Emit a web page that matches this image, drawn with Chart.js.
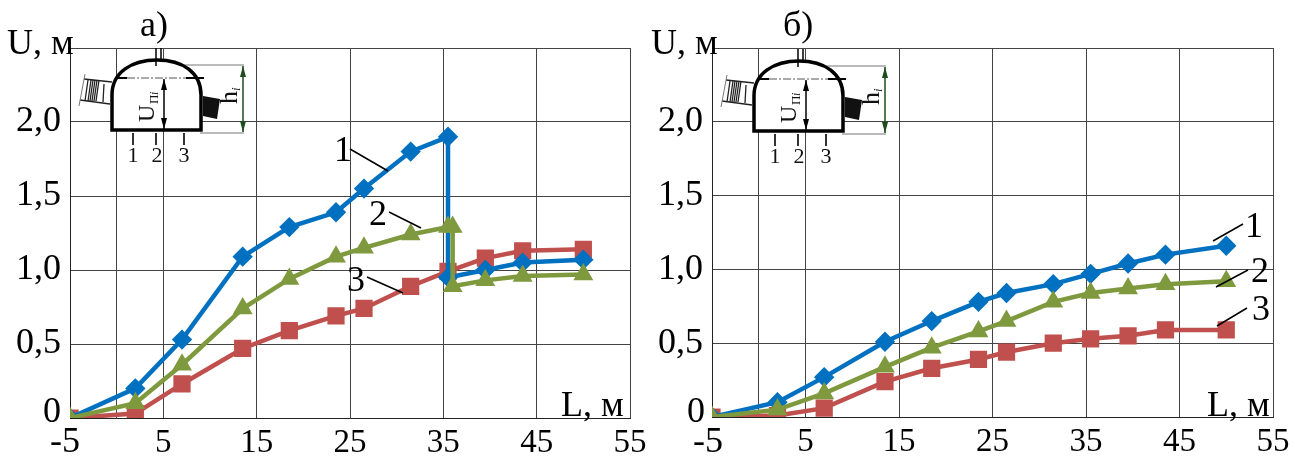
<!DOCTYPE html>
<html lang="en">
<head>
<meta charset="UTF-8">
<title>U(L)</title>
<script src="https://cdn.jsdelivr.net/npm/chart.js@4/dist/chart.umd.js"></script>
<style>
    html, body { margin: 0; padding: 0; background: #fff; overflow: hidden; }
    .panel { position: absolute; top: 0; height: 456px; }
    #leftPanel { left: 0; width: 648px; }
    #rightPanel { left: 648px; width: 647px; }
</style>
</head>
<body>
<div class="panel" id="leftPanel"><canvas id="chartA" width="648" height="456"></canvas></div>
<div class="panel" id="rightPanel"><canvas id="chartB" width="647" height="456"></canvas></div>
<script>
// distances along the working, m
const xGrid = [-5, 0, 5, 15, 25, 35, 45, 55];
const xTickLabels = ['', '', '5', '15', '25', '35', '45', '55'];
const yGrid = [0, 0.5, 1, 1.5, 2, 2.5];
const yTickLabels = ['', '0,5', '1,0', '1,5', '2,0', ''];

// panel a)
const aX1 = [-5, 2, 7, 13.5, 18.5, 23.5, 26.5, 31.5, 35.5, 35.5, 39.5, 43.5, 50];
const aU1 = [0, 0.2, 0.53, 1.09, 1.29, 1.39, 1.55, 1.8, 1.9, 0.95, 1.0, 1.05, 1.07];
const aX2 = [-5, 2, 7, 13.5, 18.5, 23.5, 26.5, 31.5, 35.5, 36, 36, 39.5, 43.5, 50];
const aU2 = [0, 0.1, 0.36, 0.74, 0.94, 1.09, 1.15, 1.24, 1.29, 1.29, 0.89, 0.93, 0.96, 0.97];
const aX3 = [-5, 2, 7, 13.5, 18.5, 23.5, 26.5, 31.5, 35.5, 39.5, 43.5, 50];
const aU3 = [0, 0.03, 0.23, 0.47, 0.59, 0.69, 0.74, 0.89, 0.99, 1.08, 1.13, 1.14];

// panel б)
const bX = [-5, 2, 7, 13.5, 18.5, 23.5, 26.5, 31.5, 35.5, 39.5, 43.5, 50];
const bU1 = [0, 0.1, 0.27, 0.51, 0.65, 0.78, 0.84, 0.9, 0.97, 1.04, 1.1, 1.16];
const bU2 = [0, 0.05, 0.16, 0.34, 0.47, 0.58, 0.65, 0.78, 0.84, 0.87, 0.9, 0.92];
const bU3 = [0, 0.01, 0.06, 0.24, 0.33, 0.39, 0.44, 0.5, 0.53, 0.55, 0.59, 0.59];

const BLUE = '#0070c0', GREEN = '#7f9a3e', RED = '#c0504d';
const SERIF = '"Liberation Serif", serif';

function points(xs, ys) {
    return xs.map((x, i) => ({ x: x, y: ys[i] }));
}

function series(label, xs, ys, color, style, size, order) {
    return {
        label: label,
        data: points(xs, ys),
        borderColor: color,
        backgroundColor: color,
        borderWidth: 4.5,
        pointStyle: style,
        pointRadius: size,
        pointBorderColor: color,
        tension: 0,
        order: order
    };
}

function arrowHead(ctx, x, y, dir) {
    ctx.beginPath();
    ctx.moveTo(x, y);
    ctx.lineTo(x - 3, y + 11 * dir);
    ctx.lineTo(x + 3, y + 11 * dir);
    ctx.fill();
}

// tunnel cross-section sketch, ox/oy shift it for each panel
function drawSketch(ctx, ox, oy) {
    ctx.save();
    ctx.translate(ox, oy);

    // dimension lines
    ctx.lineWidth = 1;
    ctx.strokeStyle = '#777';
    ctx.beginPath();
    ctx.moveTo(157, 65); ctx.lineTo(244, 65);
    ctx.moveTo(200, 133); ctx.lineTo(244, 133);
    ctx.stroke();

    // shell
    ctx.fillStyle = '#fff';
    ctx.lineWidth = 3.5;
    ctx.strokeStyle = '#000';
    ctx.beginPath();
    ctx.moveTo(112, 130);
    ctx.lineTo(112, 95);
    ctx.bezierCurveTo(112, 72, 132, 60, 157, 60);
    ctx.bezierCurveTo(182, 60, 201, 72, 201, 95);
    ctx.lineTo(201, 130);
    ctx.closePath();
    ctx.fill();
    ctx.stroke();

    // roof bolt stub
    ctx.lineWidth = 1.5;
    ctx.beginPath();
    ctx.moveTo(156, 48); ctx.lineTo(156, 66);
    ctx.moveTo(161, 48); ctx.lineTo(161, 60);
    ctx.stroke();

    // spring line
    ctx.lineWidth = 2;
    ctx.beginPath();
    ctx.moveTo(116, 78); ctx.lineTo(127, 78);
    ctx.moveTo(186, 78); ctx.lineTo(204, 78);
    ctx.stroke();
    ctx.lineWidth = 1;
    ctx.setLineDash([8, 2, 2, 2]);
    ctx.strokeStyle = '#555';
    ctx.beginPath();
    ctx.moveTo(127, 78); ctx.lineTo(186, 78);
    ctx.stroke();
    ctx.setLineDash([]);
    ctx.strokeStyle = '#000';

    // arrows
    ctx.lineWidth = 1.5;
    ctx.fillStyle = '#000';
    ctx.beginPath();
    ctx.moveTo(164, 79); ctx.lineTo(164, 129);
    ctx.stroke();
    arrowHead(ctx, 164, 79, 1);
    arrowHead(ctx, 164, 129, -1);
    ctx.strokeStyle = '#1d4d1d';
    ctx.fillStyle = '#1d4d1d';
    ctx.beginPath();
    ctx.moveTo(243, 66); ctx.lineTo(243, 132);
    ctx.stroke();
    arrowHead(ctx, 243, 66, 1);
    arrowHead(ctx, 243, 132, -1);

    // block on the right wall
    ctx.fillStyle = '#111';
    ctx.beginPath();
    ctx.moveTo(203, 96); ctx.lineTo(220, 99); ctx.lineTo(217, 119); ctx.lineTo(203, 116);
    ctx.fill();

    // ladder on the left wall
    ctx.strokeStyle = '#222';
    ctx.lineWidth = 1.5;
    ctx.beginPath();
    ctx.moveTo(84, 79); ctx.lineTo(112, 82);
    ctx.moveTo(80, 100); ctx.lineTo(110, 104);
    ctx.stroke();
    ctx.lineWidth = 1;
    ctx.strokeStyle = '#777';
    ctx.beginPath();
    ctx.moveTo(85, 74); ctx.lineTo(79, 106);
    ctx.stroke();
    ctx.strokeStyle = '#222';
    ctx.lineWidth = 1.3;
    ctx.beginPath();
    [88, 91, 93, 95, 97, 99].forEach(x => {
        ctx.moveTo(x, 80); ctx.lineTo(x - 3, 101);
    });
    ctx.moveTo(104, 84); ctx.lineTo(103, 102);
    ctx.stroke();

    // gauge marks
    ctx.strokeStyle = '#000';
    ctx.lineWidth = 1.6;
    ctx.beginPath();
    [133, 156, 184].forEach(x => {
        ctx.moveTo(x, 133); ctx.lineTo(x, 145);
    });
    ctx.stroke();

    ctx.fillStyle = '#111';
    ctx.font = '22px ' + SERIF;
    ctx.textAlign = 'center';
    ctx.textBaseline = 'alphabetic';
    ctx.fillText('1', 133, 162);
    ctx.fillText('2', 157, 162);
    ctx.fillText('3', 184, 162);

    ctx.save();
    ctx.translate(154, 122);
    ctx.rotate(-Math.PI / 2);
    ctx.textAlign = 'left';
    ctx.font = '24px ' + SERIF;
    ctx.fillText('U', 0, 0);
    ctx.font = '13px ' + SERIF;
    ctx.fillText('П', 18, 4);
    ctx.font = 'italic 12px ' + SERIF;
    ctx.fillText('i', 27, 4);
    ctx.restore();

    ctx.save();
    ctx.translate(237, 104);
    ctx.rotate(-Math.PI / 2);
    ctx.textAlign = 'left';
    ctx.font = '26px ' + SERIF;
    ctx.fillText('h', 0, 0);
    ctx.font = 'italic 13px ' + SERIF;
    ctx.fillText('i', 13, 3);
    ctx.restore();

    ctx.restore();
}

function annotations(conf) {
    return {
        id: 'annotations',
        afterDatasetsDraw(chart) {
            const ctx = chart.ctx;
            drawSketch(ctx, conf.sketch[0], conf.sketch[1]);
            ctx.save();
            ctx.fillStyle = '#000';
            ctx.textBaseline = 'alphabetic';
            ctx.textAlign = 'left';
            ctx.font = '36px ' + SERIF;
            conf.texts.forEach(t => ctx.fillText(t[0], t[1], t[2]));
            ctx.strokeStyle = '#000';
            ctx.lineWidth = 1.5;
            ctx.beginPath();
            conf.leaders.forEach(l => {
                ctx.moveTo(l[0], l[1]);
                ctx.lineTo(l[2], l[3]);
            });
            ctx.stroke();
            ctx.restore();
        }
    };
}

function buildChart(id, datasets, box, conf) {
    new Chart(document.getElementById(id), {
        type: 'line',
        data: { datasets: datasets },
        options: {
            responsive: false,
            animation: false,
            layout: { padding: { top: box.top, right: box.right, left: 0, bottom: 0 } },
            plugins: { legend: { display: false }, tooltip: { enabled: false } },
            scales: {
                x: {
                    type: 'linear',
                    min: -5,
                    max: 55,
                    afterBuildTicks: s => { s.ticks = xGrid.map(v => ({ value: v })); },
                    afterFit: s => {
                        s.height = box.bottom;
                        s.paddingLeft = 0;
                        s.paddingRight = 0;
                    },
                    grid: { color: '#444', lineWidth: 1, drawTicks: false },
                    border: { color: '#222', width: 1 },
                    ticks: {
                        autoSkip: false,
                        maxRotation: 0,
                        padding: 6,
                        color: '#000',
                        font: { family: SERIF, size: 33 },
                        callback: v => xTickLabels[xGrid.indexOf(v)]
                    }
                },
                y: {
                    min: 0,
                    max: 2.5,
                    afterBuildTicks: s => { s.ticks = yGrid.map(v => ({ value: v })); },
                    afterFit: s => {
                        s.width = box.left;
                        s.paddingTop = 0;
                        s.paddingBottom = 0;
                    },
                    grid: { color: '#444', lineWidth: 1, drawTicks: false },
                    border: { color: '#222', width: 1 },
                    ticks: {
                        autoSkip: false,
                        padding: 9,
                        color: '#000',
                        font: { family: SERIF, size: 36 },
                        callback: v => yTickLabels[yGrid.indexOf(v)]
                    }
                }
            }
        },
        plugins: [annotations(conf)]
    });
}

buildChart('chartA', [
    series('3', aX3, aU3, RED, 'rect', 9, 3),
    series('1', aX1, aU1, BLUE, 'rectRot', 7, 2),
    series('2', aX2, aU2, GREEN, 'triangle', 7, 1)
], { left: 70, top: 48, right: 18, bottom: 38 }, {
    sketch: [0, 0],
    texts: [
        ['U, м', 7, 54], ['а)', 140, 36], ['0', 43, 422], ['-5', 50, 452], ['L, м', 561, 416],
        ['1', 334, 161], ['2', 369, 225], ['3', 347, 291]
    ],
    leaders: [[350, 149, 388, 171], [389, 212, 421, 228], [367, 277, 403, 293]]
});

buildChart('chartB', [
    series('3', bX, bU3, RED, 'rect', 9, 3),
    series('1', bX, bU1, BLUE, 'rectRot', 7, 2),
    series('2', bX, bU2, GREEN, 'triangle', 7, 1)
], { left: 64, top: 48, right: 22, bottom: 39 }, {
    sketch: [-6, 1],
    texts: [
        ['U, м', 3, 54], ['б)', 135, 36], ['0', 39, 422], ['-5', 45, 452], ['L, м', 559, 416],
        ['1', 597, 237], ['2', 603, 282], ['3', 604, 320]
    ],
    leaders: [[565, 241, 595, 224], [568, 287, 600, 270], [569, 326, 599, 308]]
});
</script>
</body>
</html>
